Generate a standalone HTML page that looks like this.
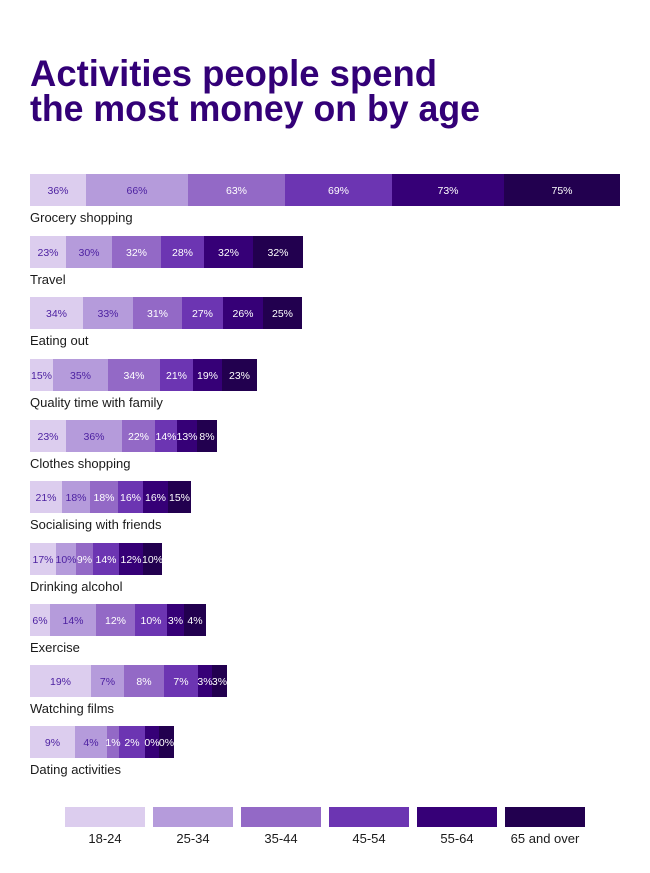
<!DOCTYPE html>
<html><head><meta charset="utf-8"><style>
html,body{margin:0;padding:0;background:#fff;}
svg{display:block;font-family:"Liberation Sans",sans-serif;}
.t{font-size:37px;font-weight:bold;fill:#330077;}
.s{font-size:10.5px;text-anchor:middle;}
.p{fill:#4b1fa0;}
.w{fill:#fff;}
.l{font-size:13px;fill:#1a1a1a;}
.c0{fill:#dccdee}.c1{fill:#b59bdb}.c2{fill:#9369c6}.c3{fill:#6c35b2}.c4{fill:#360077}.c5{fill:#22004f}
</style></head><body>
<svg width="650" height="873" viewBox="0 0 650 873">
<text class="t" x="30" y="86" textLength="407" lengthAdjust="spacingAndGlyphs">Activities people spend</text>
<text class="t" x="30" y="121" textLength="450" lengthAdjust="spacingAndGlyphs">the most money on by age</text>

<g transform="translate(0,174)">
<rect class="c0" x="30" y="0" width="56" height="32"/><rect class="c1" x="86" y="0" width="102" height="32"/><rect class="c2" x="188" y="0" width="97" height="32"/><rect class="c3" x="285" y="0" width="107" height="32"/><rect class="c4" x="392" y="0" width="112" height="32"/><rect class="c5" x="504" y="0" width="116" height="32"/>
<text class="s p" x="58" y="20">36%</text><text class="s p" x="137" y="20">66%</text><text class="s w" x="236.5" y="20">63%</text><text class="s w" x="338.5" y="20">69%</text><text class="s w" x="448" y="20">73%</text><text class="s w" x="562" y="20">75%</text>
<text class="l" x="30" y="48">Grocery shopping</text></g>

<g transform="translate(0,236)">
<rect class="c0" x="30" y="0" width="36" height="32"/><rect class="c1" x="66" y="0" width="46" height="32"/><rect class="c2" x="112" y="0" width="49" height="32"/><rect class="c3" x="161" y="0" width="43" height="32"/><rect class="c4" x="204" y="0" width="49" height="32"/><rect class="c5" x="253" y="0" width="50" height="32"/>
<text class="s p" x="48" y="20">23%</text><text class="s p" x="89" y="20">30%</text><text class="s w" x="136.5" y="20">32%</text><text class="s w" x="182.5" y="20">28%</text><text class="s w" x="228.5" y="20">32%</text><text class="s w" x="278" y="20">32%</text>
<text class="l" x="30" y="48">Travel</text></g>

<g transform="translate(0,297)">
<rect class="c0" x="30" y="0" width="53" height="32"/><rect class="c1" x="83" y="0" width="50" height="32"/><rect class="c2" x="133" y="0" width="49" height="32"/><rect class="c3" x="182" y="0" width="41" height="32"/><rect class="c4" x="223" y="0" width="40" height="32"/><rect class="c5" x="263" y="0" width="39" height="32"/>
<text class="s p" x="56.5" y="20">34%</text><text class="s p" x="108" y="20">33%</text><text class="s w" x="157.5" y="20">31%</text><text class="s w" x="202.5" y="20">27%</text><text class="s w" x="243" y="20">26%</text><text class="s w" x="282.5" y="20">25%</text>
<text class="l" x="30" y="48">Eating out</text></g>

<g transform="translate(0,359)">
<rect class="c0" x="30" y="0" width="23" height="32"/><rect class="c1" x="53" y="0" width="55" height="32"/><rect class="c2" x="108" y="0" width="52" height="32"/><rect class="c3" x="160" y="0" width="33" height="32"/><rect class="c4" x="193" y="0" width="29" height="32"/><rect class="c5" x="222" y="0" width="35" height="32"/>
<text class="s p" x="41.5" y="20">15%</text><text class="s p" x="80.5" y="20">35%</text><text class="s w" x="134" y="20">34%</text><text class="s w" x="176.5" y="20">21%</text><text class="s w" x="207.5" y="20">19%</text><text class="s w" x="239.5" y="20">23%</text>
<text class="l" x="30" y="48">Quality time with family</text></g>

<g transform="translate(0,420)">
<rect class="c0" x="30" y="0" width="36" height="32"/><rect class="c1" x="66" y="0" width="56" height="32"/><rect class="c2" x="122" y="0" width="33" height="32"/><rect class="c3" x="155" y="0" width="22" height="32"/><rect class="c4" x="177" y="0" width="20" height="32"/><rect class="c5" x="197" y="0" width="20" height="32"/>
<text class="s p" x="48" y="20">23%</text><text class="s p" x="94" y="20">36%</text><text class="s w" x="138.5" y="20">22%</text><text class="s w" x="166" y="20">14%</text><text class="s w" x="187" y="20">13%</text><text class="s w" x="207" y="20">8%</text>
<text class="l" x="30" y="48">Clothes shopping</text></g>

<g transform="translate(0,481)">
<rect class="c0" x="30" y="0" width="32" height="32"/><rect class="c1" x="62" y="0" width="28" height="32"/><rect class="c2" x="90" y="0" width="28" height="32"/><rect class="c3" x="118" y="0" width="25" height="32"/><rect class="c4" x="143" y="0" width="25" height="32"/><rect class="c5" x="168" y="0" width="23" height="32"/>
<text class="s p" x="46" y="20">21%</text><text class="s p" x="76" y="20">18%</text><text class="s w" x="104" y="20">18%</text><text class="s w" x="130.5" y="20">16%</text><text class="s w" x="155.5" y="20">16%</text><text class="s w" x="179.5" y="20">15%</text>
<text class="l" x="30" y="48">Socialising with friends</text></g>

<g transform="translate(0,543)">
<rect class="c0" x="30" y="0" width="26" height="32"/><rect class="c1" x="56" y="0" width="20" height="32"/><rect class="c2" x="76" y="0" width="17" height="32"/><rect class="c3" x="93" y="0" width="26" height="32"/><rect class="c4" x="119" y="0" width="24" height="32"/><rect class="c5" x="143" y="0" width="19" height="32"/>
<text class="s p" x="43" y="20">17%</text><text class="s p" x="66" y="20">10%</text><text class="s w" x="84.5" y="20">9%</text><text class="s w" x="106" y="20">14%</text><text class="s w" x="131" y="20">12%</text><text class="s w" x="152.5" y="20">10%</text>
<text class="l" x="30" y="48">Drinking alcohol</text></g>

<g transform="translate(0,604)">
<rect class="c0" x="30" y="0" width="20" height="32"/><rect class="c1" x="50" y="0" width="46" height="32"/><rect class="c2" x="96" y="0" width="39" height="32"/><rect class="c3" x="135" y="0" width="32" height="32"/><rect class="c4" x="167" y="0" width="17" height="32"/><rect class="c5" x="184" y="0" width="22" height="32"/>
<text class="s p" x="40" y="20">6%</text><text class="s p" x="73" y="20">14%</text><text class="s w" x="115.5" y="20">12%</text><text class="s w" x="151" y="20">10%</text><text class="s w" x="175.5" y="20">3%</text><text class="s w" x="195" y="20">4%</text>
<text class="l" x="30" y="48">Exercise</text></g>

<g transform="translate(0,665)">
<rect class="c0" x="30" y="0" width="61" height="32"/><rect class="c1" x="91" y="0" width="33" height="32"/><rect class="c2" x="124" y="0" width="40" height="32"/><rect class="c3" x="164" y="0" width="34" height="32"/><rect class="c4" x="198" y="0" width="14" height="32"/><rect class="c5" x="212" y="0" width="15" height="32"/>
<text class="s p" x="60.5" y="20">19%</text><text class="s p" x="107.5" y="20">7%</text><text class="s w" x="144" y="20">8%</text><text class="s w" x="181" y="20">7%</text><text class="s w" x="205" y="20">3%</text><text class="s w" x="219.5" y="20">3%</text>
<text class="l" x="30" y="48">Watching films</text></g>

<g transform="translate(0,726)">
<rect class="c0" x="30" y="0" width="45" height="32"/><rect class="c1" x="75" y="0" width="32" height="32"/><rect class="c2" x="107" y="0" width="12" height="32"/><rect class="c3" x="119" y="0" width="26" height="32"/><rect class="c4" x="145" y="0" width="14" height="32"/><rect class="c5" x="159" y="0" width="15" height="32"/>
<text class="s p" x="52.5" y="20">9%</text><text class="s p" x="91" y="20">4%</text><text class="s w" x="113" y="20">1%</text><text class="s w" x="132" y="20">2%</text><text class="s w" x="152" y="20">0%</text><text class="s w" x="166.5" y="20">0%</text>
<text class="l" x="30" y="48">Dating activities</text></g>

<g>
<rect class="c0" x="65" y="807" width="80" height="20"/><rect class="c1" x="153" y="807" width="80" height="20"/><rect class="c2" x="241" y="807" width="80" height="20"/><rect class="c3" x="329" y="807" width="80" height="20"/><rect class="c4" x="417" y="807" width="80" height="20"/><rect class="c5" x="505" y="807" width="80" height="20"/>
<text class="l" x="105" y="843" text-anchor="middle">18-24</text><text class="l" x="193" y="843" text-anchor="middle">25-34</text><text class="l" x="281" y="843" text-anchor="middle">35-44</text><text class="l" x="369" y="843" text-anchor="middle">45-54</text><text class="l" x="457" y="843" text-anchor="middle">55-64</text><text class="l" x="545" y="843" text-anchor="middle">65 and over</text>
</g>
</svg>
</body></html>
